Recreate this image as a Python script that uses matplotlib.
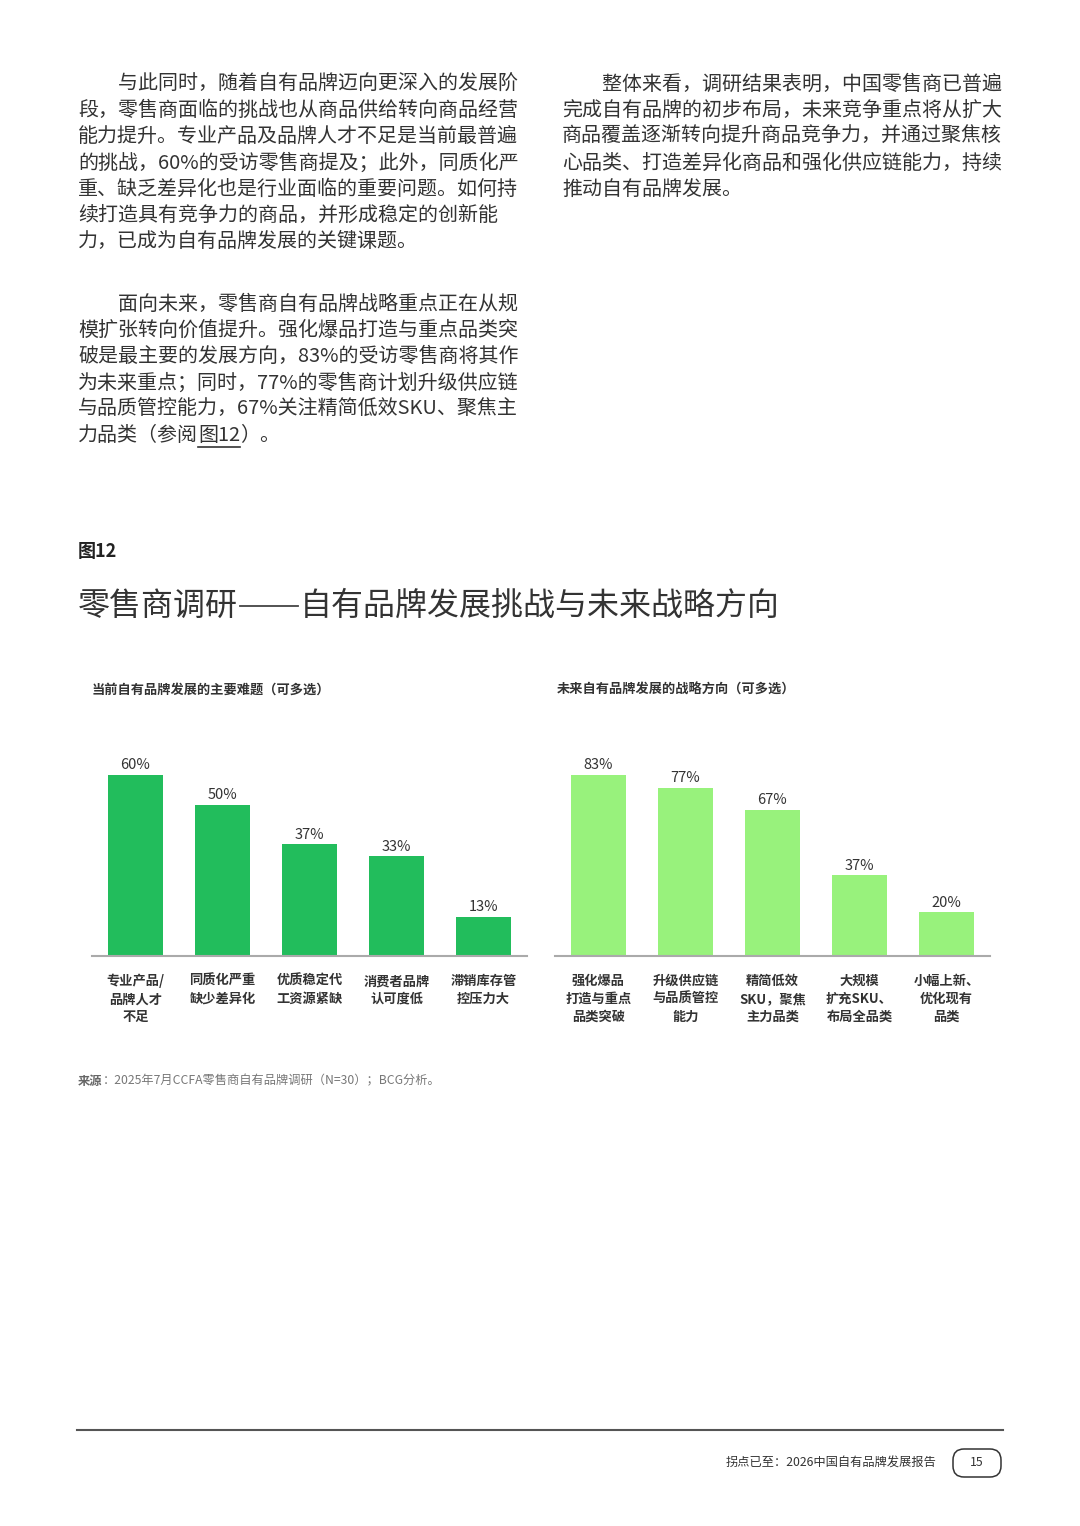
import matplotlib
matplotlib.use("Agg")
import matplotlib.pyplot as plt
from matplotlib.patches import FancyBboxPatch
from matplotlib.lines import Line2D
from matplotlib.transforms import IdentityTransform

plt.rcParams['font.family'] = ['Noto Sans CJK SC', 'DejaVu Sans']

# 数据
challenge_labels = ["专业产品/\n品牌人才\n不足", "同质化严重\n缺少差异化", "优质稳定代\n工资源紧缺",
                    "消费者品牌\n认可度低", "滞销库存管\n控压力大"]
challenge_values = [60, 50, 37, 33, 13]
strategy_labels = ["强化爆品\n打造与重点\n品类突破", "升级供应链\n与品质管控\n能力", "精简低效\nSKU，聚焦\n主力品类",
                   "大规模\n扩充SKU、\n布局全品类", "小幅上新、\n优化现有\n品类"]
strategy_values = [83, 77, 67, 37, 20]

para_left_1 = [
    "　　与此同时，随着自有品牌迈向更深入的发展阶",
    "段，零售商面临的挑战也从商品供给转向商品经营",
    "能力提升。专业产品及品牌人才不足是当前最普遍",
    "的挑战，60%的受访零售商提及；此外，同质化严",
    "重、缺乏差异化也是行业面临的重要问题。如何持",
    "续打造具有竞争力的商品，并形成稳定的创新能",
    "力，已成为自有品牌发展的关键课题。",
]
para_left_2 = [
    "　　面向未来，零售商自有品牌战略重点正在从规",
    "模扩张转向价值提升。强化爆品打造与重点品类突",
    "破是最主要的发展方向，83%的受访零售商将其作",
    "为未来重点；同时，77%的零售商计划升级供应链",
    "与品质管控能力，67%关注精简低效SKU、聚焦主",
]
para_right = [
    "　　整体来看，调研结果表明，中国零售商已普遍",
    "完成自有品牌的初步布局，未来竞争重点将从扩大",
    "商品覆盖逐渐转向提升商品竞争力，并通过聚焦核",
    "心品类、打造差异化商品和强化供应链能力，持续",
    "推动自有品牌发展。",
]

W, H = 1080, 1526
fig = plt.figure(figsize=(W / 100, H / 100), dpi=100)
fig.patch.set_facecolor("white")
TXT = "#333333"
BODY = 14.4


def fx(x):
    return x / W


def fy(y):
    return 1 - y / H


def body_lines(lines, x, y0, step=26.3):
    for i, s in enumerate(lines):
        fig.text(fx(x), fy(y0 + i * step), s, fontsize=BODY, color=TXT, va="center", ha="left")


body_lines(para_left_1, 78, 84)
body_lines(para_left_2, 78, 304)
body_lines(para_right, 562, 84)

# 最后一行带下划线的“图12”
fig.canvas.draw()
rend = fig.canvas.get_renderer()
y_last = 304 + 5 * 26.3
t1 = fig.text(fx(78), fy(y_last), "力品类（参阅", fontsize=BODY, color=TXT, va="center")
bb = t1.get_window_extent(rend)
t2 = fig.text(bb.x1 / W, fy(y_last), "图12", fontsize=BODY, color=TXT, va="center")
bb2 = t2.get_window_extent(rend)
fig.text(bb2.x1 / W, fy(y_last), "）。", fontsize=BODY, color=TXT, va="center")
fig.add_artist(Line2D([bb2.x0 / W, bb2.x1 / W], [fy(y_last + 11)] * 2, color=TXT, lw=1.2))

# 图标题
fig.text(fx(78), fy(552), "图12", fontsize=13, fontweight="bold", color="#222222", va="center")
fig.text(fx(78), fy(606), "零售商调研", fontsize=23, fontweight="light", color=TXT, va="center")
fig.add_artist(Line2D([fx(240), fx(298)], [fy(606)] * 2, color="#444444", lw=1.3))
fig.text(fx(300), fy(606), "自有品牌发展挑战与未来战略方向", fontsize=23,
         fontweight="light", color=TXT, va="center")
fig.text(fx(92), fy(690), "当前自有品牌发展的主要难题（可多选）", fontsize=9.5, fontweight="bold",
         color=TXT, va="center")
fig.text(fx(557), fy(690), "未来自有品牌发展的战略方向（可多选）", fontsize=9.5, fontweight="bold",
         color=TXT, va="center")


def bar_panel(left, labels, values, color):
    bottom, top = 956, 735
    ax = fig.add_axes([fx(left), fy(bottom), 435 / W, (bottom - top) / H])
    x = list(range(len(values)))
    bars = ax.bar(x, values, width=0.63, color=color)
    ax.set_xlim(-0.5, len(values) - 0.5)
    ax.set_ylim(0, max(values) * (bottom - top) / 181)
    for s in ["top", "right", "left"]:
        ax.spines[s].set_visible(False)
    ax.spines["bottom"].set_color("#aaaaaa")
    ax.spines["bottom"].set_linewidth(1.5)
    ax.set_yticks([])
    ax.set_xticks(x)
    ax.set_xticklabels(labels, fontsize=9.5, fontweight="bold", color=TXT, linespacing=1.35)
    ax.tick_params(axis="x", length=0, pad=13)
    ax.bar_label(bars, labels=[f"{v}%" for v in values], padding=2, fontsize=10.5, color=TXT)
    ax.patch.set_alpha(0)
    return ax


bar_panel(92, challenge_labels, challenge_values, "#22BD5C")
bar_panel(555, strategy_labels, strategy_values, "#98F27C")

# 来源
t = fig.text(fx(78), fy(1081), "来源", fontsize=8.8, fontweight="bold", color="#666666", va="center")
bb = t.get_window_extent(rend)
fig.text(bb.x1 / W, fy(1081), "：2025年7月CCFA零售商自有品牌调研（N=30）；BCG分析。", fontsize=8.8,
         color="#777777", va="center")

# 页脚
fig.add_artist(Line2D([fx(77), fx(1003)], [fy(1430)] * 2, color="#555555", lw=1.5))
fig.text(fx(937), fy(1463), "拐点已至：2026中国自有品牌发展报告", fontsize=8.8, color=TXT,
         va="center", ha="right")
box = FancyBboxPatch((953, H - 1477), 48, 28,
                     boxstyle="round,pad=0,rounding_size=11", transform=IdentityTransform(),
                     fill=False, edgecolor="#333333", lw=1.1)
fig.add_artist(box)
fig.text(fx(977), fy(1463), "15", fontsize=8.8, color=TXT, va="center", ha="center")

fig.savefig("out.png", dpi=100, facecolor="white")
